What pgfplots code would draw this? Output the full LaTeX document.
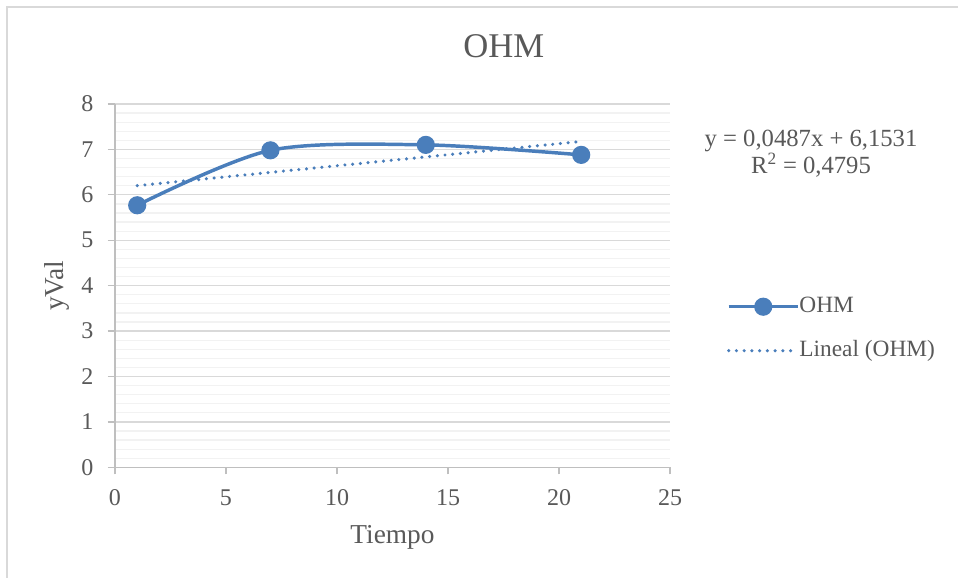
\documentclass[border=0pt]{standalone}
\usepackage{fontspec}
\setmainfont{Liberation Serif}
\usepackage{pgfplots}
\pgfplotsset{compat=1.18}

\definecolor{ohmblue}{HTML}{4A7EBB}
\definecolor{txtgray}{HTML}{595959}
\definecolor{axgray}{HTML}{BFBFBF}
\definecolor{majgrid}{HTML}{D9D9D9}
\definecolor{mingrid}{HTML}{F2F2F2}
\definecolor{framegray}{HTML}{D9D9D9}

\begin{document}
\begin{tikzpicture}
\useasboundingbox (0,0) rectangle (718.5pt,433.5pt);
\fill[white] (0,0) rectangle (718.5pt,433.5pt);
% chart area frame
\draw[framegray, line width=1pt] (5.25pt,0) -- (5.25pt,428.25pt) -- (718.5pt,428.25pt);
\begin{axis}[
  at={(86.25pt,83pt)}, anchor=south west,
  scale only axis, width=416.25pt, height=272.5pt,
  xmin=0, xmax=25, ymin=0, ymax=8,
  xtick={0,5,...,25}, ytick={0,1,...,8},
  minor y tick num=4,
  axis x line=bottom, axis y line=left,
  axis line style={axgray, line width=1pt, -},
  tick style={axgray, line width=1pt},
  tick align=outside,
  major tick length=5.25pt,
  minor tick length=0pt,
  ymajorgrids, yminorgrids,
  major grid style={majgrid, line width=0.9pt},
  minor grid style={mingrid, line width=0.9pt},
  /pgf/number format/assume math mode=true,
  ticklabel style={font=\fontsize{18}{21}\selectfont, text=txtgray},
  xticklabel style={yshift=-8pt},
  yticklabel style={xshift=-7.5pt},
  title={OHM},
  title style={at={(axis description cs:0.7004,1.1376)}, anchor=center,
    font=\fontsize{26}{30}\selectfont, text=txtgray},
  xlabel={Tiempo},
  xlabel style={at={(axis description cs:0.5,-0.2084)}, anchor=base,
    font=\fontsize{20.5}{24}\selectfont, text=txtgray},
  ylabel={yVal},
  ylabel style={at={(axis description cs:-0.093,0.5)}, anchor=base,
    font=\fontsize{20.5}{24}\selectfont, text=txtgray},
  legend style={draw=none, fill=none,
    at={(axis description cs:1.1027,0.3815)}, anchor=west,
    inner sep=0pt, outer sep=0pt, row sep=17pt,
    font=\fontsize{17.5}{20}\selectfont, text=txtgray,
    nodes={inner sep=0pt, text height=12pt, text depth=4pt},
    /tikz/every even column/.append style={column sep=7.5pt}},
  legend cell align=left,
  legend image code/.code={%
    \draw[mark repeat=2, mark phase=2] plot coordinates {(0pt,0pt) (25.9pt,0pt) (51.75pt,0pt)};},
  clip=false,
]
\addplot[ohmblue, line width=2.6pt, smooth, mark=*, mark size=5.5pt,
  mark options={solid, fill=ohmblue, draw=none}]
  coordinates {(1,5.77) (7,6.98) (14,7.10) (21,6.88)};
\addlegendentry{OHM}
% linear trend y = 0.0487x + 6.1531 between x = 1 and x = 21
\addplot[ohmblue, line width=2.6pt, line cap=round, dash pattern=on 0pt off 5.8pt]
  coordinates {(1,6.2018) (21,7.1758)};
\addlegendentry{Lineal (OHM)}
\end{axis}
\node[align=center, text=txtgray, font=\fontsize{18.5}{20.25}\selectfont]
  at (608.25pt,318.4pt) {y = 0,0487x + 6,1531\\R\textsuperscript{2} = 0,4795};
\end{tikzpicture}
\end{document}
